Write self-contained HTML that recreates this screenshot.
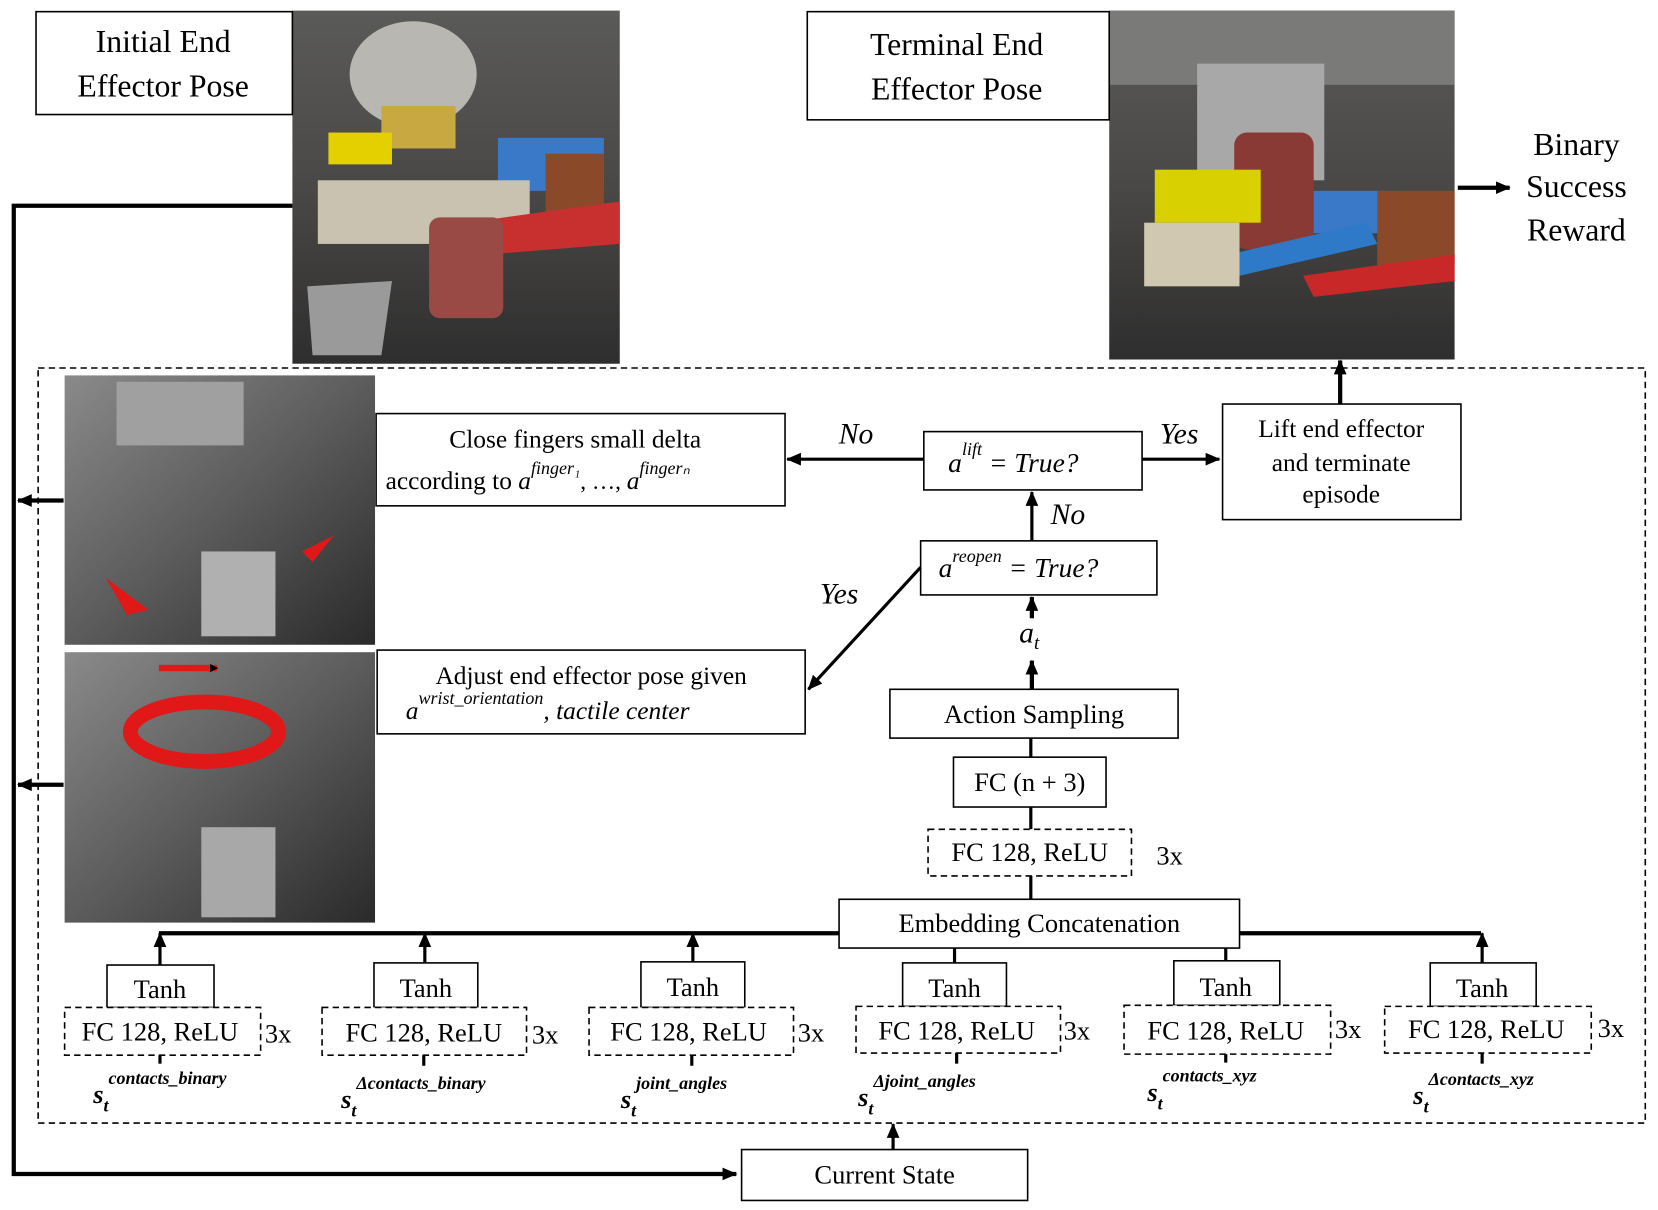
<!DOCTYPE html>
<html><head><meta charset="utf-8"><style>
html,body{margin:0;padding:0;background:#fff;width:1658px;height:1210px;overflow:hidden}
svg{display:block}
text{font-family:"Liberation Serif",serif;fill:#000}
.m{font-style:italic}
</style></head><body>
<svg width="1658" height="1210" viewBox="0 0 1565 1141" preserveAspectRatio="none" xmlns="http://www.w3.org/2000/svg">
<defs>
<marker id="ah" markerWidth="8" markerHeight="8" refX="7" refY="4" orient="auto" markerUnits="userSpaceOnUse"><path d="M0,0 L8,4 L0,8 z" fill="#000"/></marker>
<marker id="ab" markerWidth="14" markerHeight="12" refX="13" refY="6" orient="auto" markerUnits="userSpaceOnUse"><path d="M0,0 L14,6 L0,12 z" fill="#000"/></marker>
<linearGradient id="p1" x1="0" y1="0" x2="0" y2="1"><stop offset="0" stop-color="#5a5a58"/><stop offset="0.5" stop-color="#4a4846"/><stop offset="1" stop-color="#2e2e2e"/></linearGradient>
<linearGradient id="g1" x1="0" y1="0" x2="1" y2="1"><stop offset="0" stop-color="#8a8a8a"/><stop offset="0.5" stop-color="#5c5c5c"/><stop offset="1" stop-color="#2a2a2a"/></linearGradient>
</defs>

<rect x="276" y="10" width="309" height="333" fill="url(#p1)"/>
<ellipse cx="390" cy="70" rx="60" ry="50" fill="#b9b7b2"/>
<rect x="360" y="100" width="70" height="40" fill="#c8a840"/>
<rect x="470" y="130" width="100" height="50" fill="#3a78c8"/>
<rect x="515" y="145" width="55" height="55" fill="#8a4a2a"/>
<rect x="300" y="170" width="200" height="60" fill="#c9c2b0"/>
<rect x="310" y="125" width="60" height="30" fill="#e4d000"/>
<path d="M440 210 L585 190 L585 230 L460 240z" fill="#c83030"/>
<rect x="405" y="205" width="70" height="95" rx="10" fill="#9a4a44"/>
<path d="M290 270 L370 265 L360 335 L295 335z" fill="#9a9a9a"/>
<rect x="1047" y="10" width="326" height="329" fill="url(#p1)"/>
<rect x="1047" y="10" width="326" height="70" fill="#7a7a78"/>
<rect x="1130" y="60" width="120" height="110" fill="#a8a8a8"/>
<rect x="1165" y="125" width="75" height="110" rx="12" fill="#8a3a34"/>
<rect x="1090" y="160" width="100" height="50" fill="#d8d000"/>
<rect x="1240" y="180" width="80" height="40" fill="#3a78c8"/>
<rect x="1300" y="180" width="73" height="70" fill="#8a4a2a"/>
<path d="M1160 240 L1290 210 L1300 230 L1170 260z" fill="#2e7ac8"/>
<path d="M1230 260 L1373 240 L1373 265 L1240 280z" fill="#c82828"/>
<rect x="1080" y="210" width="90" height="60" fill="#d0c8b0"/>
<rect x="61" y="354" width="293" height="254" fill="url(#g1)"/>
<rect x="110" y="360" width="120" height="60" fill="#a0a0a0"/>
<rect x="190" y="520" width="70" height="80" fill="#b0b0b0"/>
<path d="M100 545 L140 575 L120 580z" fill="#e01818"/><path d="M315 505 L295 530 L285 520z" fill="#e01818"/>
<rect x="61" y="615" width="293" height="255" fill="url(#g1)"/>
<rect x="190" y="780" width="70" height="85" fill="#a8a8a8"/>
<ellipse cx="193" cy="690" rx="70" ry="28" fill="none" stroke="#e01818" stroke-width="14"/>
<path d="M150 630 L205 630" stroke="#e01818" stroke-width="6" marker-end="url(#ah)"/>

<rect x="34" y="11" width="242" height="97" fill="#fff" stroke="#000" stroke-width="1.5"/>
<text x="154" y="49" font-size="30" text-anchor="middle">Initial End</text>
<text x="154" y="91" font-size="30" text-anchor="middle">Effector Pose</text>
<rect x="762" y="11" width="285" height="102" fill="#fff" stroke="#000" stroke-width="1.5"/>
<text x="903" y="52" font-size="30" text-anchor="middle">Terminal End</text>
<text x="903" y="94" font-size="30" text-anchor="middle">Effector Pose</text>
<text x="1488" y="146" font-size="30" text-anchor="middle">Binary</text>
<text x="1488" y="186" font-size="30" text-anchor="middle">Success</text>
<text x="1488" y="227" font-size="30" text-anchor="middle">Reward</text>
<line x1="1376" y1="177" x2="1425" y2="177" stroke="#000" stroke-width="4" marker-end="url(#ab)"/>

<rect x="36" y="347" width="1517" height="712" fill="none" stroke="#000" stroke-width="1.5" stroke-dasharray="6,4"/>

<polyline points="276,194 13,194 13,1107 695,1107" fill="none" stroke="#000" stroke-width="4" marker-end="url(#ab)"/>
<line x1="60" y1="472" x2="17" y2="472" stroke="#000" stroke-width="4" marker-end="url(#ab)"/>
<line x1="60" y1="740" x2="17" y2="740" stroke="#000" stroke-width="4" marker-end="url(#ab)"/>

<rect x="355" y="390" width="386" height="87" fill="#fff" stroke="#000" stroke-width="1.5"/>
<text x="543" y="422" font-size="24" text-anchor="middle">Close fingers small delta</text>
<text x="364" y="461" font-size="24">according to <tspan class="m">a</tspan><tspan class="m" font-size="17" dy="-14">finger₁</tspan><tspan font-size="22" dy="14">, …, </tspan><tspan class="m">a</tspan><tspan class="m" font-size="17" dy="-14">fingerₙ</tspan></text>
<rect x="356" y="613" width="404" height="79" fill="#fff" stroke="#000" stroke-width="1.5"/>
<text x="558" y="645" font-size="24" text-anchor="middle">Adjust end effector pose given</text>
<text x="383" y="678" font-size="24" class="m">a<tspan font-size="17" dy="-14">wrist_orientation</tspan><tspan dy="14">, tactile center</tspan></text>

<rect x="872" y="407" width="206" height="55" fill="#fff" stroke="#000" stroke-width="1.5"/>
<text x="895" y="445" font-size="26" class="m">a<tspan font-size="17" dy="-16">lift</tspan><tspan dy="16"> = True?</tspan></text>
<rect x="869" y="510" width="223" height="51" fill="#fff" stroke="#000" stroke-width="1.5"/>
<text x="886" y="544" font-size="26" class="m">a<tspan font-size="17" dy="-14">reopen</tspan><tspan dy="14"> = True?</tspan></text>
<rect x="1154" y="381" width="225" height="109" fill="#fff" stroke="#000" stroke-width="1.5"/>
<text x="1266" y="412" font-size="24" text-anchor="middle">Lift end effector</text>
<text x="1266" y="444" font-size="24" text-anchor="middle">and terminate</text>
<text x="1266" y="474" font-size="24" text-anchor="middle">episode</text>
<line x1="1265" y1="381" x2="1265" y2="340" stroke="#000" stroke-width="4" marker-end="url(#ab)"/>
<line x1="872" y1="433" x2="743" y2="433" stroke="#000" stroke-width="3" marker-end="url(#ab)"/>
<text x="808" y="418" font-size="28" class="m" text-anchor="middle">No</text>
<line x1="1078" y1="433" x2="1151" y2="433" stroke="#000" stroke-width="3" marker-end="url(#ab)"/>
<text x="1113" y="418" font-size="28" class="m" text-anchor="middle">Yes</text>
<line x1="974" y1="510" x2="974" y2="464" stroke="#000" stroke-width="3" marker-end="url(#ab)"/>
<text x="1008" y="494" font-size="28" class="m" text-anchor="middle">No</text>
<line x1="869" y1="535" x2="763" y2="650" stroke="#000" stroke-width="3" marker-end="url(#ab)"/>
<text x="792" y="569" font-size="28" class="m" text-anchor="middle">Yes</text>
<line x1="974" y1="583" x2="974" y2="563" stroke="#000" stroke-width="4" marker-end="url(#ab)"/>
<text x="962" y="606" font-size="28" class="m">a<tspan font-size="18" dy="6">t</tspan></text>
<line x1="974" y1="650" x2="974" y2="623" stroke="#000" stroke-width="4" marker-end="url(#ab)"/>

<rect x="840" y="650" width="272" height="46" fill="#fff" stroke="#000" stroke-width="1.5"/>
<text x="976" y="682" font-size="25" text-anchor="middle">Action Sampling</text>
<line x1="973" y1="696" x2="973" y2="714" stroke="#000" stroke-width="3"/>
<rect x="900" y="714" width="144" height="47" fill="#fff" stroke="#000" stroke-width="1.5"/>
<text x="972" y="746" font-size="25" text-anchor="middle">FC (n + 3)</text>
<line x1="973" y1="761" x2="973" y2="782" stroke="#000" stroke-width="3"/>
<rect x="876" y="782" width="192" height="44" fill="#fff" stroke="#000" stroke-width="1.5" stroke-dasharray="6,4"/>
<text x="972" y="812" font-size="25" text-anchor="middle">FC 128, ReLU</text>
<text x="1104" y="815" font-size="25" text-anchor="middle">3x</text>
<line x1="973" y1="826" x2="973" y2="848" stroke="#000" stroke-width="3"/>
<line x1="150" y1="880" x2="1398" y2="880" stroke="#000" stroke-width="4"/>
<rect x="792" y="848" width="378" height="46" fill="#fff" stroke="#000" stroke-width="1.5"/>
<text x="981" y="879" font-size="25" text-anchor="middle">Embedding Concatenation</text>

<g stroke="#000" stroke-width="3">
<line x1="151" y1="910" x2="151" y2="880" marker-end="url(#ab)"/>
<line x1="401" y1="908" x2="401" y2="880" marker-end="url(#ab)"/>
<line x1="654" y1="907" x2="654" y2="880" marker-end="url(#ab)"/>
<line x1="901" y1="908" x2="901" y2="894"/>
<line x1="1157" y1="906" x2="1157" y2="894"/>
<line x1="1399" y1="908" x2="1399" y2="880" marker-end="url(#ab)"/>
</g>

<g font-size="25">
<rect x="101" y="910" width="101" height="40" fill="#fff" stroke="#000" stroke-width="1.5"/>
<text x="151" y="941" text-anchor="middle">Tanh</text>
<rect x="61" y="950" width="185" height="45" fill="#fff" stroke="#000" stroke-width="1.5" stroke-dasharray="6,4"/>
<text x="151" y="981" text-anchor="middle">FC 128, ReLU</text><text x="250" y="983">3x</text>
<rect x="353" y="908" width="98" height="42" fill="#fff" stroke="#000" stroke-width="1.5"/>
<text x="402" y="940" text-anchor="middle">Tanh</text>
<rect x="304" y="950" width="193" height="45" fill="#fff" stroke="#000" stroke-width="1.5" stroke-dasharray="6,4"/>
<text x="400" y="982" text-anchor="middle">FC 128, ReLU</text><text x="502" y="984">3x</text>
<rect x="605" y="907" width="98" height="43" fill="#fff" stroke="#000" stroke-width="1.5"/>
<text x="654" y="939" text-anchor="middle">Tanh</text>
<rect x="556" y="950" width="193" height="45" fill="#fff" stroke="#000" stroke-width="1.5" stroke-dasharray="6,4"/>
<text x="650" y="981" text-anchor="middle">FC 128, ReLU</text><text x="753" y="982">3x</text>
<rect x="852" y="908" width="98" height="41" fill="#fff" stroke="#000" stroke-width="1.5"/>
<text x="901" y="940" text-anchor="middle">Tanh</text>
<rect x="808" y="949" width="193" height="44" fill="#fff" stroke="#000" stroke-width="1.5" stroke-dasharray="6,4"/>
<text x="903" y="980" text-anchor="middle">FC 128, ReLU</text><text x="1004" y="980">3x</text>
<rect x="1108" y="906" width="100" height="42" fill="#fff" stroke="#000" stroke-width="1.5"/>
<text x="1157" y="939" text-anchor="middle">Tanh</text>
<rect x="1061" y="948" width="195" height="46" fill="#fff" stroke="#000" stroke-width="1.5" stroke-dasharray="6,4"/>
<text x="1157" y="980" text-anchor="middle">FC 128, ReLU</text><text x="1260" y="979">3x</text>
<rect x="1350" y="908" width="100" height="41" fill="#fff" stroke="#000" stroke-width="1.5"/>
<text x="1399" y="940" text-anchor="middle">Tanh</text>
<rect x="1307" y="949" width="195" height="44" fill="#fff" stroke="#000" stroke-width="1.5" stroke-dasharray="6,4"/>
<text x="1403" y="979" text-anchor="middle">FC 128, ReLU</text><text x="1508" y="978">3x</text>
</g>

<g stroke="#000" stroke-width="3">
<line x1="151" y1="995" x2="151" y2="1003"/><line x1="400" y1="995" x2="400" y2="1005"/>
<line x1="653" y1="995" x2="653" y2="1005"/><line x1="903" y1="993" x2="903" y2="1003"/>
<line x1="1157" y1="994" x2="1157" y2="1002"/><line x1="1399" y1="993" x2="1399" y2="1003"/>
</g>
<g font-size="25" font-weight="bold" class="m">
<text x="88" y="1040" class="m">s<tspan font-size="17" dy="8">t</tspan><tspan font-size="17" dy="-26">contacts_binary</tspan></text>
<text x="322" y="1045" class="m">s<tspan font-size="17" dy="8">t</tspan><tspan font-size="17" dy="-26">Δcontacts_binary</tspan></text>
<text x="586" y="1045" class="m">s<tspan font-size="17" dy="8">t</tspan><tspan font-size="17" dy="-26">joint_angles</tspan></text>
<text x="810" y="1043" class="m">s<tspan font-size="17" dy="8">t</tspan><tspan font-size="17" dy="-26">Δjoint_angles</tspan></text>
<text x="1083" y="1038" class="m">s<tspan font-size="17" dy="8">t</tspan><tspan font-size="17" dy="-26">contacts_xyz</tspan></text>
<text x="1334" y="1041" class="m">s<tspan font-size="17" dy="8">t</tspan><tspan font-size="17" dy="-26">Δcontacts_xyz</tspan></text>
</g>

<rect x="700" y="1084" width="270" height="48" fill="#fff" stroke="#000" stroke-width="1.5"/>
<text x="835" y="1116" font-size="25" text-anchor="middle">Current State</text>
<line x1="843" y1="1084" x2="843" y2="1060" stroke="#000" stroke-width="3" marker-end="url(#ab)"/>
</svg>
</body></html>
